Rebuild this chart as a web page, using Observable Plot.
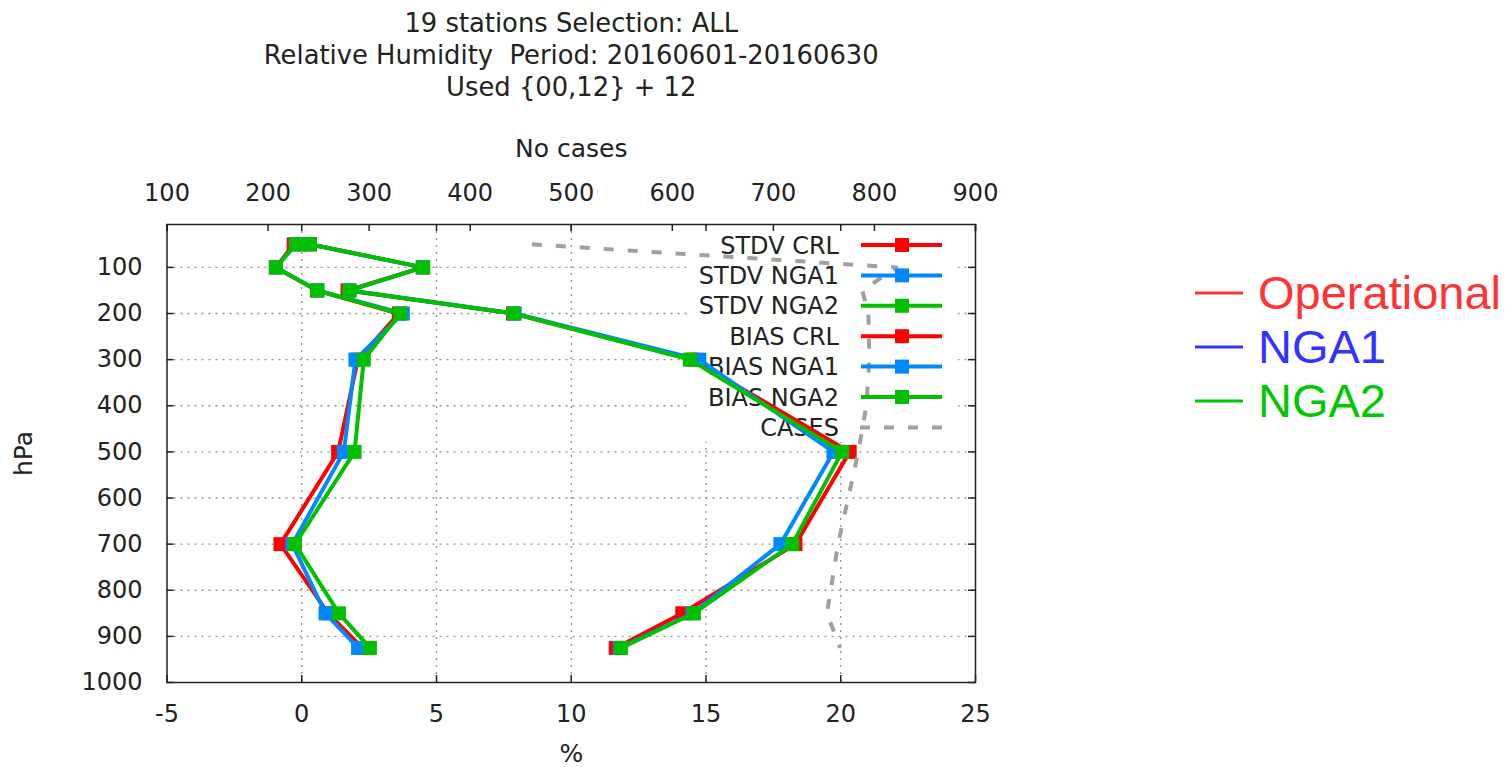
<!DOCTYPE html>
<html><head><meta charset="utf-8">
<script src="https://cdn.jsdelivr.net/npm/d3@7"></script>
<script src="https://cdn.jsdelivr.net/npm/@observablehq/plot@0.6"></script>
<style>body{margin:0;background:#fff}#chart{position:absolute;left:0;top:0}</style>
</head><body><div id="chart"></div>
<script>
// ---- data ----
const levels = [50, 100, 150, 200, 300, 500, 700, 850, 925];
const stdvCRL  = [0.30, 4.49, 1.70, 7.84, 14.50, 20.33, 18.32, 14.12, 11.65];
const stdvNGA1 = [0.30, 4.49, 1.78, 7.90, 14.75, 19.73, 17.76, 14.50, 11.80];
const stdvNGA2 = [0.30, 4.51, 1.77, 7.86, 14.40, 20.05, 18.20, 14.55, 11.85];
const biasCRL  = [-0.30, -0.96, 0.56, 3.60, 2.08, 1.35, -0.79, 0.98, 2.25];
const biasNGA1 = [-0.22, -0.96, 0.58, 3.75, 1.99, 1.56, -0.35, 0.88, 2.09];
const biasNGA2 = [-0.22, -0.96, 0.58, 3.65, 2.30, 1.96, -0.25, 1.38, 2.53];
const caseLevels = [50, 100, 150, 200, 300, 400, 500, 700, 850, 925];
const cases = [461, 822, 788, 794, 795, 792, 784, 764, 753, 766];

const seriesNames = ["STDV CRL", "STDV NGA1", "STDV NGA2", "BIAS CRL", "BIAS NGA1", "BIAS NGA2"];
const seriesValues = [stdvCRL, stdvNGA1, stdvNGA2, biasCRL, biasNGA1, biasNGA2];
const legendNames = ["STDV CRL", "STDV NGA1", "STDV NGA2", "BIAS CRL", "BIAS NGA1", "BIAS NGA2", "CASES"];
const xTicks = [-5, 0, 5, 10, 15, 20, 25];
const xGrid = [0, 5, 10, 15, 20];
const yTicks = [100, 200, 300, 400, 500, 600, 700, 800, 900, 1000];
const yGrid = [100, 200, 300, 400, 500, 600, 700, 800, 900];
const caseTicks = [100, 200, 300, 400, 500, 600, 700, 800, 900];
const titleLines = ["19 stations Selection: ALL", "Relative Humidity  Period: 20160601-20160630", "Used {00,12} + 12"];
const expNames = ["Operational", "NGA1", "NGA2"];

// ---- styles ----
const red = "#ff0000", blue = "#0088ff", green = "#00c000", gray = "#a0a0a0";
const seriesColors = [red, blue, green, red, blue, green];
const expColors = ["#ff3333", "#3333ff", "#00c800"];
const W = 1506, H = 767, ML = 166.5, MR = 531, MT = 224, MB = 85;
const FW = W - ML - MR, FH = H - MT - MB;
const FONT = "DejaVu Sans";
const ink = "#222";

const rows = seriesNames.flatMap((s, i) => levels.map((p, j) => ({series: s, level: p, value: seriesValues[i][j]})));
const caseRows = caseLevels.map((p, i) => ({level: p, cases: cases[i]}));
const c2p = c => -5 + (c - 100) * 30 / 800;
const p2c = p => String(Math.round(100 + (p + 5) * 800 / 30));

// legend box (opaque, behind data)
function legendBox() {
  const g = d3.create("svg:g");
  const right = ML + FW;
  g.append("rect").attr("x", right - 287).attr("y", MT + 2).attr("width", 270).attr("height", 216).attr("fill", "white");
  legendNames.forEach((n, i) => {
    g.append("text").attr("x", right - 136).attr("y", MT + 21 + 30.4 * i).attr("dy", "0.36em")
      .attr("text-anchor", "end").attr("font-family", FONT).attr("font-size", 24).attr("fill", ink).text(n);
  });
  return g.node();
}
function legendSamples() {
  const g = d3.create("svg:g");
  const right = ML + FW;
  legendNames.forEach((n, i) => {
    const y = MT + 21 + 30.4 * i;
    if (i < 6) {
      g.append("line").attr("x1", right - 114).attr("x2", right - 33).attr("y1", y).attr("y2", y)
        .attr("stroke", seriesColors[i]).attr("stroke-width", 4);
      g.append("rect").attr("x", right - 73 - 7).attr("y", y - 7).attr("width", 14).attr("height", 14).attr("fill", seriesColors[i]);
    } else {
      g.append("line").attr("x1", right - 115).attr("x2", right - 33).attr("y1", y).attr("y2", y)
        .attr("stroke", gray).attr("stroke-width", 4).attr("stroke-dasharray", "10,14");
    }
  });
  // external experiment legend
  expNames.forEach((n, i) => {
    const y = 293 + 54 * i;
    g.append("line").attr("x1", right + 220).attr("x2", right + 268).attr("y1", y).attr("y2", y)
      .attr("stroke", expColors[i]).attr("stroke-width", 3);
    g.append("text").attr("x", right + 283).attr("y", y).attr("dy", "0.35em").attr("text-anchor", "start")
      .attr("font-family", "Liberation Sans").attr("font-size", 47).attr("fill", expColors[i]).text(n);
  });
  return g.node();
}

const dataMarks = seriesNames.flatMap((s, i) => {
  const d = rows.filter(r => r.series === s);
  return [
    Plot.line(d, {x: "value", y: "level", stroke: seriesColors[i], strokeWidth: 4}),
    Plot.dot(d, {x: "value", y: "level", symbol: "square", r: 7.9, fill: seriesColors[i]})
  ];
});

const gridStyle = {stroke: "#909090", strokeOpacity: 1, strokeWidth: 1.3, strokeDasharray: "2,5"};
const txt = {fontSize: 25, fill: ink, lineAnchor: "middle", textAnchor: "middle"};
const ttl = {...txt, fontSize: 25.8};

const chart = Plot.plot({
  width: W, height: H,
  marginLeft: ML, marginRight: MR, marginTop: MT, marginBottom: MB,
  style: {fontFamily: FONT, fontSize: "24px", color: ink, background: "white", overflow: "visible"},
  x: {domain: [-5, 25]},
  y: {domain: [1000, 7]},
  marks: [
    Plot.gridY(yGrid, gridStyle),
    Plot.gridX(xGrid, gridStyle),
    legendBox,
    Plot.tickX(xTicks, {x: d => d, insetTop: FH - 7, stroke: ink, strokeWidth: 1.5}),
    Plot.tickX(xTicks, {x: d => d, insetBottom: FH - 7, stroke: ink, strokeWidth: 1.5}),
    Plot.tickX(caseTicks, {x: d => c2p(d), insetBottom: FH - 7, stroke: ink, strokeWidth: 1.5}),
    Plot.tickY(yTicks, {y: d => d, insetRight: FW - 7, stroke: ink, strokeWidth: 1.5}),
    Plot.tickY(yTicks, {y: d => d, insetLeft: FW - 7, stroke: ink, strokeWidth: 1.5}),
    Plot.axisX({anchor: "bottom", ticks: xTicks, tickFormat: d => String(d), tickSize: 0, tickPadding: 22, label: null, fontSize: 24, fill: ink}),
    Plot.axisX({anchor: "top", ticks: caseTicks.map(c2p), tickFormat: p2c, tickSize: 0, tickPadding: 24, label: null, fontSize: 24, fill: ink}),
    Plot.axisY({anchor: "left", ticks: yTicks, tickFormat: d => String(d), tickSize: 0, tickPadding: 24.5, label: null, fontSize: 24, fill: ink}),
    Plot.frame({stroke: ink, strokeWidth: 1.5}),
    ...dataMarks,
    Plot.line(caseRows, {x: d => c2p(d.cases), y: "level", stroke: gray, strokeWidth: 4, strokeDasharray: "10,14", strokeLinecap: "butt"}),
    legendSamples,
    Plot.text([titleLines[0]], {...ttl, text: d => d, frameAnchor: "top", dy: -201}),
    Plot.text([titleLines[1]], {...ttl, text: d => d, frameAnchor: "top", dy: -169}),
    Plot.text([titleLines[2]], {...ttl, text: d => d, frameAnchor: "top", dy: -137}),
    Plot.text(["No cases"], {...txt, text: d => d, frameAnchor: "top", dy: -76}),
    Plot.text(["%"], {...txt, text: d => d, frameAnchor: "bottom", dy: 71}),
    Plot.text(["hPa"], {...txt, text: d => d, frameAnchor: "left", dx: -143.5, rotate: -90})
  ]
});
document.getElementById("chart").appendChild(chart);
</script>
</body></html>
